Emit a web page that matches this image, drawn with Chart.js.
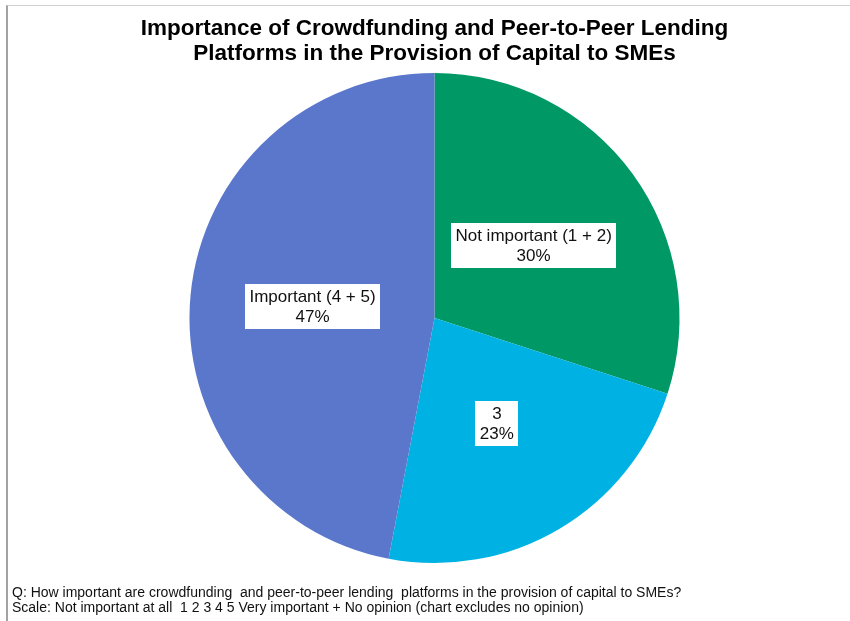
<!DOCTYPE html>
<html>
<head>
<meta charset="utf-8">
<title>Crowdfunding and P2P lending importance</title>
<script src="https://cdn.jsdelivr.net/npm/chart.js@4.4.1/dist/chart.umd.min.js"></script>
<style>
  html, body { margin: 0; padding: 0; background: #fff; }
  .wrap { position: relative; width: 850px; height: 621px; overflow: hidden; }
  .frame {
    position: absolute; left: 6px; top: 5px; width: 844px; height: 616px;
    border-top: 1px solid #d0d0d0; border-left: 2px solid #a3a3a3;
    pointer-events: none; box-sizing: border-box;
  }
  canvas { position: absolute; left: 0; top: 0; }
</style>
</head>
<body>
<div class="wrap">
  <canvas id="chart" width="850" height="621"></canvas>
  <div class="frame"></div>
</div>
<script>
// Survey answers, clockwise from 12 o'clock
const categories = ['Not important (1 + 2)', '3', 'Important (4 + 5)'];
const shares = [30, 23, 47];
const sliceColors = ['#009966', '#00B2E3', '#5B77CC'];

const titleLines = [
  'Importance of Crowdfunding and Peer-to-Peer Lending',
  'Platforms in the Provision of Capital to SMEs'
];
const noteLines = [
  'Q: How important are crowdfunding  and peer-to-peer lending  platforms in the provision of capital to SMEs?',
  'Scale: Not important at all  1 2 3 4 5 Very important + No opinion (chart excludes no opinion)'
];

const FONT = '"Liberation Sans", Arial, Helvetica, sans-serif';

// White label boxes sitting halfway out along each slice
const sliceLabels = {
  id: 'sliceLabels',
  afterDatasetsDraw(chart) {
    const { ctx } = chart;
    const meta = chart.getDatasetMeta(0);
    const ds = chart.data.datasets[0];
    ctx.save();
    ctx.font = '17px ' + FONT;
    ctx.textAlign = 'center';
    ctx.textBaseline = 'middle';
    meta.data.forEach((arc, i) => {
      const pos = arc.tooltipPosition();
      const lines = [chart.data.labels[i], ds.data[i] + '%'];
      const w = Math.max(...lines.map(t => ctx.measureText(t).width)) + 9;
      const lh = 20;
      const h = lines.length * lh + 5;
      ctx.fillStyle = '#ffffff';
      ctx.fillRect(Math.round(pos.x - w / 2), Math.round(pos.y - h / 2), Math.round(w), h);
      ctx.fillStyle = '#111111';
      lines.forEach((t, k) => {
        ctx.fillText(t, pos.x, pos.y - h / 2 + 3 + lh * k + lh / 2);
      });
    });
    ctx.restore();
  }
};

// Question text under the pie
const footNote = {
  id: 'footNote',
  afterDraw(chart) {
    const { ctx } = chart;
    ctx.save();
    ctx.font = '14px ' + FONT;
    ctx.fillStyle = '#111111';
    ctx.textAlign = 'left';
    ctx.textBaseline = 'alphabetic';
    noteLines.forEach((t, k) => ctx.fillText(t, 12, 597 + k * 15));
    ctx.restore();
  }
};

const chart = new Chart(document.getElementById('chart'), {
  type: 'pie',
  data: {
    labels: categories,
    datasets: [{
      data: shares,
      backgroundColor: sliceColors,
      borderWidth: 0
    }]
  },
  options: {
    responsive: false,
    animation: false,
    layout: { padding: { left: 19, right: 0, top: 0, bottom: 58 } },
    plugins: {
      legend: { display: false },
      tooltip: { enabled: false },
      title: {
        display: true,
        text: titleLines,
        color: '#000000',
        font: { family: FONT, size: 22.5, weight: 'bold', lineHeight: 1.11 },
        padding: { top: 16, bottom: 7 }
      }
    }
  },
  plugins: [sliceLabels, footNote]
});
</script>
</body>
</html>
